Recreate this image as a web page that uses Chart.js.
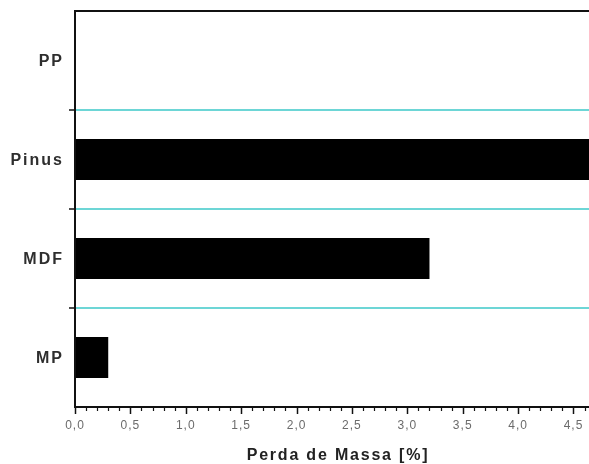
<!DOCTYPE html>
<html>
<head>
<meta charset="utf-8">
<script src="https://cdn.jsdelivr.net/npm/chart.js@4/dist/chart.umd.min.js"></script>
<style>
  html, body { margin: 0; padding: 0; background: #fff; }
  canvas { display: block; }
</style>
</head>
<body>
<canvas id="chart" width="589" height="464"></canvas>
<script>
// Mass loss per material
const categories = ['PP', 'Pinus', 'MDF', 'MP'];
const massLoss = [0, 4.7, 3.2, 0.3];

// Axis settings
const xMin = 0;
const xMax = 4.64;
const majorStep = 0.5;
const minorStep = 0.1;
const xTitle = 'Perda de Massa [%]';

const formatTick = v => v.toFixed(1).replace('.', ',');

const frame = {
  id: 'frame',
  beforeDatasetsDraw(chart) {
    const { ctx, chartArea: a, scales: { y } } = chart;
    ctx.save();
    ctx.strokeStyle = '#6dd6d6';
    ctx.lineWidth = 2;
    for (let i = 0; i < categories.length - 1; i++) {
      const yy = Math.round((y.getPixelForValue(i) + y.getPixelForValue(i + 1)) / 2);
      ctx.beginPath();
      ctx.moveTo(a.left, yy);
      ctx.lineTo(a.right, yy);
      ctx.stroke();
    }
    ctx.restore();
  },
  afterDatasetsDraw(chart) {
    const { ctx, chartArea: a, scales: { x, y } } = chart;
    ctx.save();
    ctx.strokeStyle = '#111';
    ctx.lineWidth = 2;
    // top border
    ctx.beginPath();
    ctx.moveTo(a.left, a.top);
    ctx.lineTo(a.right, a.top);
    ctx.stroke();
    // left axis
    ctx.beginPath();
    ctx.moveTo(a.left, a.top - 1);
    ctx.lineTo(a.left, a.bottom + 1);
    ctx.stroke();
    // bottom axis
    ctx.beginPath();
    ctx.moveTo(a.left - 1, a.bottom);
    ctx.lineTo(a.right, a.bottom);
    ctx.stroke();

    // y tick marks at category boundaries
    ctx.lineWidth = 1.5;
    for (let i = 0; i < categories.length - 1; i++) {
      const yy = Math.round((y.getPixelForValue(i) + y.getPixelForValue(i + 1)) / 2);
      ctx.beginPath();
      ctx.moveTo(a.left - 6, yy);
      ctx.lineTo(a.left, yy);
      ctx.stroke();
    }

    // x tick marks
    const nMinor = Math.floor((xMax - xMin) / minorStep + 1e-6);
    for (let k = 0; k <= nMinor; k++) {
      const v = xMin + k * minorStep;
      const isMajor = Math.abs(v / majorStep - Math.round(v / majorStep)) < 1e-6;
      const px = Math.round(x.getPixelForValue(v)) + 0.5;
      ctx.lineWidth = isMajor ? 1.5 : 1.2;
      ctx.beginPath();
      ctx.moveTo(px, a.bottom);
      ctx.lineTo(px, a.bottom + (isMajor ? 7 : 4));
      ctx.stroke();
    }

    // x tick labels
    ctx.fillStyle = '#6b6b6b';
    ctx.font = '12px "Liberation Sans", Arial, sans-serif';
    ctx.letterSpacing = '1px';
    ctx.textAlign = 'center';
    ctx.textBaseline = 'middle';
    const nMajor = Math.floor((xMax - xMin) / majorStep + 1e-6);
    for (let k = 0; k <= nMajor; k++) {
      const v = xMin + k * majorStep;
      ctx.fillText(formatTick(v), x.getPixelForValue(v), a.bottom + 19);
    }

    // y category labels
    ctx.fillStyle = '#2e2e2e';
    ctx.font = 'bold 16px "Liberation Sans", Arial, sans-serif';
    ctx.letterSpacing = '2px';
    ctx.textAlign = 'right';
    categories.forEach((c, i) => {
      ctx.fillText(c, a.left - 11, y.getPixelForValue(i) + 1);
    });

    // x axis title
    ctx.fillStyle = '#222';
    ctx.font = 'bold 16px "Liberation Sans", Arial, sans-serif';
    ctx.letterSpacing = '1.8px';
    ctx.textAlign = 'center';
    ctx.fillText(xTitle, (a.left + a.right) / 2 + 6, a.bottom + 49);
    ctx.restore();
  }
};

new Chart(document.getElementById('chart'), {
  type: 'bar',
  data: {
    labels: categories,
    datasets: [{
      data: massLoss,
      backgroundColor: '#000',
      borderWidth: 0,
      categoryPercentage: 1,
      barPercentage: 0.414
    }]
  },
  options: {
    indexAxis: 'y',
    responsive: false,
    animation: false,
    layout: { padding: { left: 75, top: 11, right: 0, bottom: 57 } },
    plugins: { legend: { display: false }, tooltip: { enabled: false } },
    scales: {
      x: { type: 'linear', min: xMin, max: xMax, display: false },
      y: { type: 'category', offset: true, display: false }
    }
  },
  plugins: [frame]
});
</script>
</body>
</html>
